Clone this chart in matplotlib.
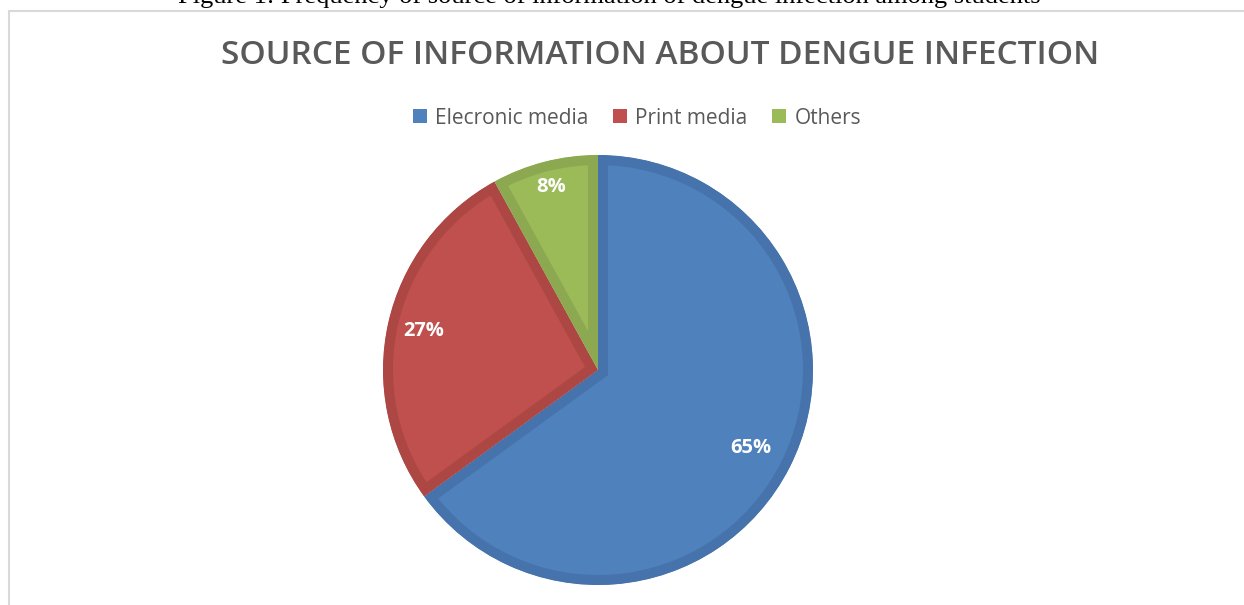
import matplotlib
matplotlib.use("Agg")
import matplotlib.pyplot as plt
from matplotlib.patches import Rectangle, Wedge
import numpy as np

categories = ["Elecronic media", "Print media", "Others"]
values = [65, 27, 8]
labels = ["65%", "27%", "8%"]
title = "SOURCE OF INFORMATION ABOUT DENGUE INFECTION"
caption = "Figure 1: Frequency of source of information of dengue infection among students"

colors = ["#4F81BD", "#C0504D", "#9BBB59"]
edge_colors = ["#4673AB", "#AD4744", "#8CA951"]
label_dist = [0.80, 0.83, 0.88]

W, H = 1244, 605
fig = plt.figure(figsize=(W / 100, H / 100), dpi=100)

# chart border
border = Rectangle((9 / W, -0.1), 1.2, (H - 11) / H + 0.1, transform=fig.transFigure,
                   fill=False, edgecolor="#D9D9D9", linewidth=1.5)
fig.patches.append(border)

# caption (cut at top, as in the reference)
fig.text(609 / W, 1 - 3 / H, caption, ha="center", va="baseline",
         fontsize=19, family="Liberation Serif", color="black")

fig.text(660 / W, 1 - 55 / H, title, ha="center", va="center",
         fontsize=24, family="Open Sans", fontweight="semibold", color="#595959")

cx, cy, R = 598, 605 - 370, 215
ax = fig.add_axes([(cx - R) / W, (cy - R) / H, 2 * R / W, 2 * R / H])

wedges, _ = ax.pie(values, colors=colors, startangle=90, counterclock=False,
                   radius=1, wedgeprops=dict(linewidth=14.4))
ax.set_xlim(-1, 1)
ax.set_ylim(-1, 1)
ax.set_aspect("equal")
ax.axis("off")
for w, ec in zip(wedges, edge_colors):
    w.set_edgecolor(ec)
    w.set_joinstyle("miter")
    clip = Wedge(w.center, w.r, w.theta1, w.theta2, transform=ax.transData)
    w.set_clip_on(True)
    w.set_clip_path(clip)

for w, lab, d in zip(wedges, labels, label_dist):
    ang = np.deg2rad((w.theta1 + w.theta2) / 2)
    ax.text(d * np.cos(ang), d * np.sin(ang), lab, ha="center", va="center",
            color="white", fontsize=14.5, fontweight="bold", family="Open Sans")

handles = [Rectangle((0, 0), 1, 1, facecolor=c) for c in colors]
leg = fig.legend(handles, categories, loc="center", bbox_to_anchor=(637 / W, 1 - 118 / H),
                 ncol=3, frameon=False, handlelength=0.65, handleheight=0.65,
                 handletextpad=0.4, columnspacing=1.2,
                 prop=dict(family="Open Sans", size=15))
for t in leg.get_texts():
    t.set_color("#595959")

fig.savefig("out.png", dpi=100)
